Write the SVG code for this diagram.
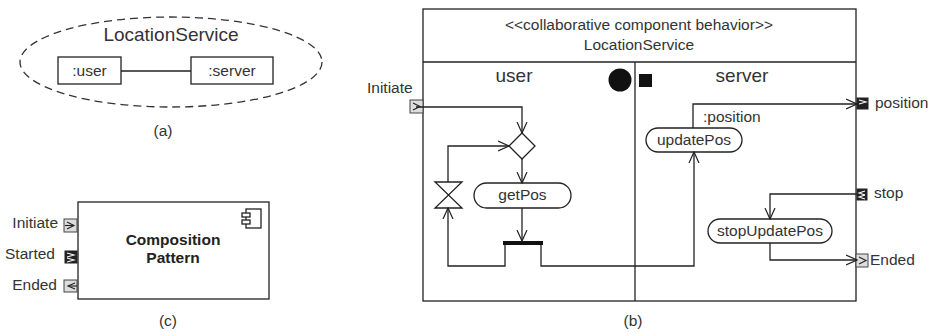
<svg xmlns="http://www.w3.org/2000/svg" width="935" height="333" viewBox="0 0 935 333">
<defs>
<style>
text{font-family:"Liberation Sans",Arial,sans-serif;font-size:15.5px;fill:#333}
.big{font-size:19px}
.b{font-weight:bold;fill:#222}
.ln{fill:none;stroke:#222;stroke-width:1.3}
.bx{fill:#fff;stroke:#222;stroke-width:1.3}
.pl{fill:#ddd;stroke:#444;stroke-width:1}
.pd{fill:#222;stroke:#222;stroke-width:1}
.ch{fill:none;stroke:#222;stroke-width:1.1}
.cw{fill:none;stroke:#fff;stroke-width:1.1}
</style>
<marker id="ar" markerUnits="userSpaceOnUse" markerWidth="12" markerHeight="12" viewBox="0 0 12 12" refX="11" refY="6" orient="auto">
<path d="M0,1 L11,6 L0,11" fill="none" stroke="#222" stroke-width="1.2"/>
</marker>
</defs>

<!-- (a) -->
<g id="a-collab">
<ellipse cx="171" cy="62" rx="151" ry="45" fill="none" stroke="#333" stroke-width="1.3" stroke-dasharray="8,5"/>
<text class="big" x="171" y="41" text-anchor="middle">LocationService</text>
</g>
<g id="a-user"><rect class="bx" x="58" y="57" width="63" height="27"/><text x="89.5" y="76" text-anchor="middle">:user</text></g>
<g id="a-server"><rect class="bx" x="191" y="57" width="82" height="27"/><text x="232" y="76" text-anchor="middle">:server</text></g>
<g id="a-conn"><line class="ln" x1="121" y1="71" x2="191" y2="71"/></g>
<text x="163" y="136" text-anchor="middle">(a)</text>

<!-- (c) -->
<g id="c-comp">
<rect class="bx" x="78" y="202" width="191" height="97"/>
<rect class="bx" x="246" y="209" width="15" height="19"/>
<rect class="bx" x="242" y="213" width="8" height="4"/>
<rect class="bx" x="242" y="220" width="8" height="4"/>
<text class="b" x="173" y="245" text-anchor="middle">Composition</text>
<text class="b" x="173" y="263" text-anchor="middle">Pattern</text>
</g>
<g id="c-initiate">
<rect class="pl" x="64" y="219" width="13" height="13"/>
<polyline class="ch" points="67,222 74,225.5 67,229"/><line class="ch" x1="65" y1="225.5" x2="74" y2="225.5"/>
<text x="58" y="228" text-anchor="end">Initiate</text>
</g>
<g id="c-started">
<rect class="pd" x="65" y="251" width="12" height="12"/>
<polyline class="cw" points="67,253 74,255 67,257"/><polyline class="cw" points="67,258 74,260 67,262"/>
<text x="55" y="259" text-anchor="end">Started</text>
</g>
<g id="c-ended">
<rect class="pl" x="64" y="280" width="13" height="12"/>
<polyline class="ch" points="75,283 68,286 75,289"/><line class="ch" x1="68" y1="286" x2="77" y2="286"/>
<text x="57" y="290" text-anchor="end">Ended</text>
</g>
<text x="168" y="326" text-anchor="middle">(c)</text>

<!-- (b) -->
<g id="b-frame">
<rect class="bx" x="423" y="9" width="433" height="292"/>
<line class="ln" x1="423" y1="62" x2="856" y2="62"/>
<line class="ln" x1="635" y1="62" x2="635" y2="301"/>
<text x="639" y="30" text-anchor="middle">&lt;&lt;collaborative component behavior&gt;&gt;</text>
<text x="639" y="50" text-anchor="middle">LocationService</text>
<text class="big" x="514" y="82" text-anchor="middle">user</text>
<text class="big" x="742" y="82" text-anchor="middle">server</text>
</g>
<g id="b-initial"><circle cx="620" cy="80" r="11.5" fill="#111"/></g>
<g id="b-final"><rect x="639" y="74" width="13" height="13" fill="#111"/></g>
<g id="b-initiate">
<rect class="pl" x="410" y="100" width="13" height="13"/>
<polyline class="ch" points="413,103 420,106.5 413,110"/>
<text x="367" y="93">Initiate</text>
</g>
<g id="b-decision"><polygon class="bx" points="522,133 535,146 522,159 509,146"/></g>
<g id="b-getPos"><rect class="bx" x="474" y="183" width="97" height="25" rx="12.5"/><text x="522.5" y="200" text-anchor="middle">getPos</text></g>
<g id="b-timer"><polygon class="bx" points="435,182 462,182 435,208 462,208"/></g>
<g id="b-fork"><rect x="503" y="241" width="40" height="4" fill="#111"/></g>
<g id="b-updatePos"><rect class="bx" x="646" y="128" width="96" height="24" rx="12"/><text x="694" y="145" text-anchor="middle">updatePos</text></g>
<g id="b-stopUpdatePos"><rect class="bx" x="708" y="219" width="124" height="24" rx="12"/><text x="770" y="236" text-anchor="middle">stopUpdatePos</text></g>
<g id="b-position">
<rect class="pd" x="857" y="98" width="11" height="11"/>
<polyline class="cw" points="859,100 866,102 859,104"/>
<text x="875" y="108">position</text>
</g>
<g id="b-stop">
<rect class="pd" x="857" y="189" width="10" height="11"/>
<polyline class="cw" points="865,191 859,193 865,195"/><polyline class="cw" points="865,195 859,197 865,199"/>
<text x="874" y="198">stop</text>
</g>
<g id="b-ended">
<rect class="pl" x="856" y="254" width="12" height="13"/>
<polyline class="ch" points="859,257 866,260.5 859,264"/>
<text x="870" y="265">Ended</text>
</g>
<text x="633" y="326" text-anchor="middle">(b)</text>

<g id="connectors">
<polyline class="ln" points="416,107 522,107 522,133" marker-end="url(#ar)"/>
<line class="ln" x1="522" y1="159" x2="522" y2="183" marker-end="url(#ar)"/>
<line class="ln" x1="522" y1="208" x2="522" y2="241" marker-end="url(#ar)"/>
<polyline class="ln" points="505,245 505,266 448,266 448,208" marker-end="url(#ar)"/>
<polyline class="ln" points="448,182 448,146 509,146" marker-end="url(#ar)"/>
<polyline class="ln" points="541,245 541,266 694,266 694,152" marker-end="url(#ar)"/>
<polyline class="ln" points="693,128 693,104 857,104" marker-end="url(#ar)"/>
<text x="703" y="122">:position</text>
<polyline class="ln" points="857,194 770,194 770,219" marker-end="url(#ar)"/>
<polyline class="ln" points="770,243 770,260 857,260" marker-end="url(#ar)"/>
</g>
</svg>
